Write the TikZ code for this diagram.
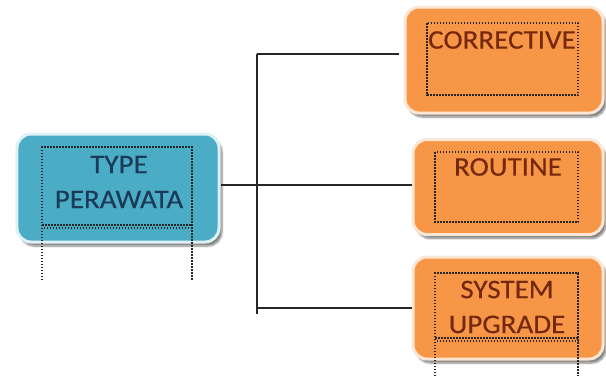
\documentclass[tikz,border=0pt]{standalone}
\usepackage{fontspec}
\setmainfont{Carlito}[FakeStretch=1.08, FakeBold=0.3]
\usetikzlibrary{shadows.blur}
\definecolor{boxblue}{HTML}{4BACC6}
\definecolor{rimblue}{HTML}{DDF1F7}
\definecolor{boxorange}{HTML}{F79646}
\definecolor{rimorange}{HTML}{FDE6D4}
\definecolor{txtblue}{HTML}{1B3A57}
\definecolor{txtbrown}{HTML}{74290E}
\tikzset{
  card/.style={rounded corners=14bp, line width=3bp, inner sep=0pt,
    blur shadow={shadow xshift=3bp, shadow yshift=-4bp, shadow blur steps=6, shadow opacity=50}},
  bluecard/.style={card, fill=boxblue, draw=rimblue},
  orangecard/.style={card, fill=boxorange, draw=rimorange},
  dots/.style={line width=1.5bp, dash pattern=on 1.5bp off 1.5bp, black!85},
  wire/.style={line width=2bp, black!85},
  lbl/.style={font=\fontsize{27}{35}\selectfont, align=center, inner sep=0pt},
}
\begin{document}
\begin{tikzpicture}[x=1bp,y=-1bp]
\useasboundingbox (0,0) rectangle (606,376);

% boxes
\node[bluecard, minimum width=202bp, minimum height=108bp] (type) at (118,188) {};
\node[orangecard, minimum width=198bp, minimum height=106bp] (corr) at (504,60) {};
\node[orangecard, minimum width=190bp, minimum height=95bp] (rout) at (508,187) {};
\node[orangecard, minimum width=190bp, minimum height=102bp] (sysup) at (508,308) {};

% dotted text frames
\draw[dots] (42,280) -- (42,147) -- (192,147) -- (192,280);
\draw[dots] (42,225) -- (192,225);
\draw[dots, dash phase=1.5bp] (42,228) -- (192,228);
\draw[dots] (427,23) rectangle (578,95);
\draw[dots] (435,152) rectangle (578,222);
\draw[dots] (435,376) -- (435,273) -- (578,273) -- (578,376);
\draw[dots] (435,338) -- (578,338);
\draw[dots, dash phase=1.5bp] (435,341) -- (578,341);

% labels
\node[lbl, text=txtblue] (ltype) at (119,182) {TYPE\\PERAWATA};
\node[lbl, text=txtbrown] (lcorr) at (502,40) {CORRECTIVE};
\node[lbl, text=txtbrown] (lrout) at (508,167) {ROUTINE};
\node[lbl, text=txtbrown] (lsys) at (507,307) {SYSTEM\\UPGRADE};

% connectors
\coordinate (jtop) at (257,54);
\coordinate (jmid) at (257,185);
\coordinate (jbot) at (257,308);
\coordinate (jend) at (257,314);
\draw[wire] (jtop) -- (jend);
\draw[wire] (jtop) -- ([xshift=-5bp]jtop -| corr.west);
\draw[wire] (type.east |- jmid) -- (jmid -| rout.west);
\draw[wire] (jbot) -- (jbot -| sysup.west);
\end{tikzpicture}
\end{document}
